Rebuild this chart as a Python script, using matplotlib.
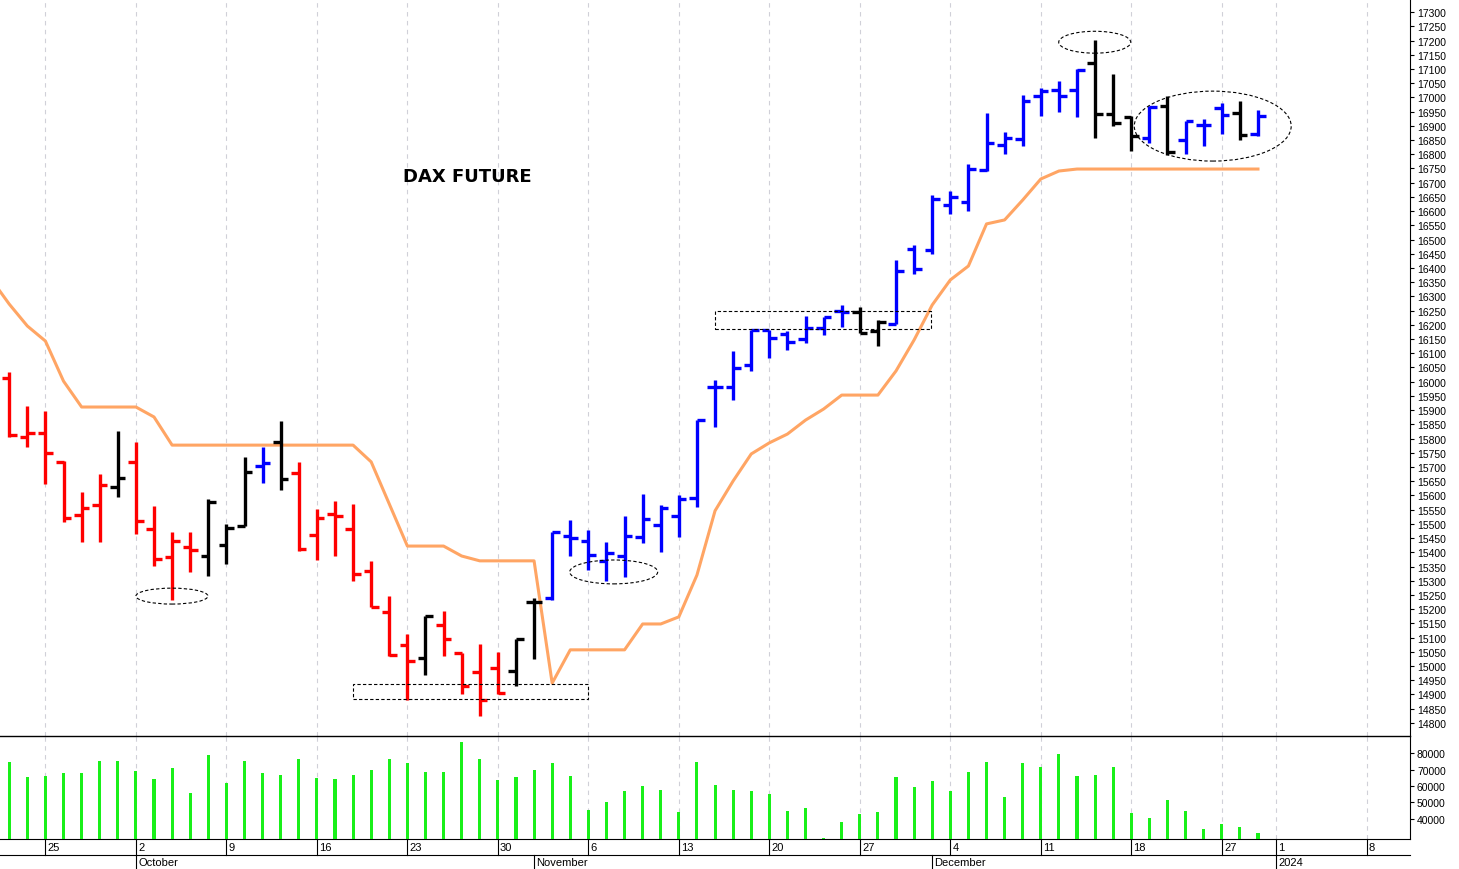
import matplotlib
matplotlib.use("Agg")
import matplotlib.pyplot as plt
from matplotlib.patches import Ellipse, Rectangle
import numpy as np

plt.rcParams['font.family'] = ['Liberation Sans', 'DejaVu Sans']

# trading-day index: 0 = Sep 25 2023
idx = list(range(-2, 68))
opens = [16013,15807,15820,15717,15531,15567,15631,15717,15482,15383,15418,15388,15426,15492,15705,15789,
         15678,15461,15535,15482,15336,15191,15074,15028,15145,15046,14980,14992,14984,15226,15238,15459,
         15441,15368,15388,15453,15496,15527,15591,15980,15980,16059,16183,16168,16150,16188,16250,16246,
         16179,16203,16467,16464,16621,16631,16745,16832,16853,17006,17026,17026,17120,16941,16930,16856,
         16971,16851,16903,16961,16945,16871]
highs = [16034,15916,15898,15722,15611,15676,15826,15787,15562,15473,15470,15588,15500,15736,15769,15863,
         15717,15552,15582,15570,15371,15246,15113,15177,15195,15046,15078,15049,15095,15238,15473,15515,
         15479,15437,15529,15605,15568,15602,15866,16006,16107,16183,16183,16179,16230,16229,16270,16262,
         16218,16429,16481,16658,16672,16766,16945,16879,17008,17033,17058,17100,17203,17082,16933,16971,
         17004,16918,16924,16980,16988,16957]
lows = [15806,15769,15640,15506,15435,15435,15594,15465,15353,15234,15330,15318,15359,15492,15644,15619,
        15406,15374,15388,15300,15207,15035,14882,14969,15037,14900,14826,14900,14931,15025,15232,15388,
        15339,15300,15312,15433,15400,15453,15558,15842,15937,16039,16082,16113,16135,16164,16191,16171,
        16127,16203,16379,16449,16590,16601,16742,16801,16830,16935,16949,16930,16857,16898,16810,16839,
        16798,16801,16828,16871,16851,16863]
closes = [15813,15820,15748,15520,15555,15637,15661,15511,15377,15439,15408,15576,15485,15682,15714,15658,
          15412,15520,15529,15324,15207,15039,15017,15177,15095,14929,14882,14905,15095,15224,15470,15449,
          15391,15398,15459,15517,15556,15588,15866,15980,16047,16183,16153,16139,16188,16226,16246,16171,
          16211,16390,16396,16642,16648,16748,16839,16856,16988,17023,17006,17097,16941,16910,16863,16965,
          16807,16918,16903,16938,16868,16933]
bar_colors = (['red'] * 6 + ['black'] + ['red'] * 4 + ['black'] * 3 + ['blue', 'black'] + ['red'] * 7 +
              ['black'] + ['red'] * 4 + ['black'] * 2 + ['blue'] * 17 + ['black'] * 2 + ['blue'] * 11 +
              ['black'] * 3 + ['blue', 'black'] + ['blue'] * 3 + ['black', 'blue'])
volume = [74900,65700,66000,68100,68100,75100,75100,69100,64200,70800,55800,79000,62000,75100,67900,66600,
          76300,64800,64200,66900,70000,76300,74300,68500,68500,86600,76300,63600,65700,69700,73800,66000,
          45400,50000,57200,60100,57700,43900,74400,60500,57800,57000,55200,44700,46400,28100,38200,43100,
          44100,65200,59500,63200,57000,68300,74500,53400,73800,71800,79200,66000,66900,71400,43500,40600,
          51300,44700,33800,36900,34900,31600]
stop_idx = list(range(-3, 68))
stop_line = [16361,16273,16196,16143,16002,15911,15911,15911,15911,15876,15777,15777,15777,15777,15777,
             15777,15777,15777,15777,15777,15777,15718,15570,15422,15422,15422,15387,15370,15370,15370,15370,
             14940,15057,15057,15057,15057,15148,15148,15173,15320,15546,15651,15746,15785,15816,15865,15904,
             15953,15953,15953,16038,16147,16270,16358,16407,16555,16569,16639,16713,16741,16748,16748,16748,
             16748,16748,16748,16748,16748,16748,16748,16748]
week_ticks = [0, 5, 10, 15, 20, 25, 30, 35, 40, 45, 50, 55, 60, 65, 68, 73]
week_labels = ['25', '2', '9', '16', '23', '30', '6', '13', '20', '27', '4', '11', '18', '27', '1', '8']
month_ticks = [5, 27, 49, 68]
month_labels = ['October', 'November', 'December', '2024']
price_ticks = list(range(14800, 17301, 50))
vol_ticks = [40000, 50000, 60000, 70000, 80000]

W, H = 1459, 870
fig = plt.figure(figsize=(W / 100, H / 100), dpi=100)
xl = (-2.51, 75.4)
axw = 1410 / W
ax = fig.add_axes([0, 1 - 737 / H, axw, 737 / H])
axv = fig.add_axes([0, 1 - 840 / H, axw, (840 - 737) / H])

for a in (ax, axv):
    a.set_xlim(*xl)
    for t in week_ticks:
        a.axvline(t, color='#d0d0d8', lw=0.8, ls=(0, (4, 4)), zorder=0)
    a.tick_params(axis='x', bottom=False, labelbottom=False)
    a.yaxis.tick_right()
    a.tick_params(axis='y', labelsize=7.5, length=3, pad=2)
    for s in ('top', 'left'):
        a.spines[s].set_visible(False)

ax.set_ylim(14754, 17346)
ax.set_yticks(price_ticks)
ax.set_yticklabels([str(p) for p in price_ticks])
ax.spines['bottom'].set_visible(False)

# stop line
ax.plot(stop_idx, stop_line, color='#ffa564', lw=2.2, zorder=2)

# OHLC bars
tk = 0.42
for i, o, h, l, c, col in zip(idx, opens, highs, lows, closes, bar_colors):
    ax.plot([i, i], [l, h], color=col, lw=2.4, solid_capstyle='butt', zorder=3)
    ax.plot([i - tk, i], [o, o], color=col, lw=2.4, solid_capstyle='butt', zorder=3)
    ax.plot([i, i + tk], [c, c], color=col, lw=2.4, solid_capstyle='butt', zorder=3)

# annotations
dash = dict(fill=False, ls=(0, (3, 2)), lw=0.8, ec='black', zorder=4)
ax.add_patch(Ellipse((6.99, 15246), 3.98, 56, **dash))
ax.add_patch(Ellipse((31.4, 15331), 4.86, 84, **dash))
ax.add_patch(Ellipse((57.98, 17194), 3.98, 77, **dash))
ax.add_patch(Ellipse((64.5, 16899), 8.67, 246, **dash))
ax.add_patch(Rectangle((16.99, 14884), 12.98, 53, **dash))
ax.add_patch(Rectangle((36.99, 16185), 11.93, 64, **dash))
ax.text(23.3, 16723, 'DAX FUTURE', fontsize=13, fontweight='bold', ha='center', va='center',
        family=['DejaVu Sans'])

# volume
axv.set_ylim(27690, 90460)
axv.bar(idx, volume, width=0.17, color='#19f019', bottom=0, zorder=3)
axv.set_yticks(vol_ticks)
axv.set_yticklabels([str(v) for v in vol_ticks])
axv.spines['top'].set_visible(True)
axv.spines['top'].set_linewidth(1.0)

# date axis drawn below volume panel
tr = axv.get_xaxis_transform()
y1 = -16 / 103
y2 = -30 / 103
axv.plot([xl[0], xl[1]], [y1, y1], transform=tr, color='black', lw=0.8, clip_on=False)
for t, lab in zip(week_ticks, week_labels):
    axv.plot([t, t], [0, y1], transform=tr, color='black', lw=0.8, clip_on=False)
    axv.text(t + 0.12, -8 / 103, lab, transform=tr, fontsize=8, ha='left', va='center', clip_on=False)
for t, lab in zip(month_ticks, month_labels):
    axv.plot([t, t], [y1, y2], transform=tr, color='black', lw=0.8, clip_on=False)
    axv.text(t + 0.12, -23.5 / 103, lab, transform=tr, fontsize=8, ha='left', va='center', clip_on=False)

fig.savefig('out.png', dpi=100)
